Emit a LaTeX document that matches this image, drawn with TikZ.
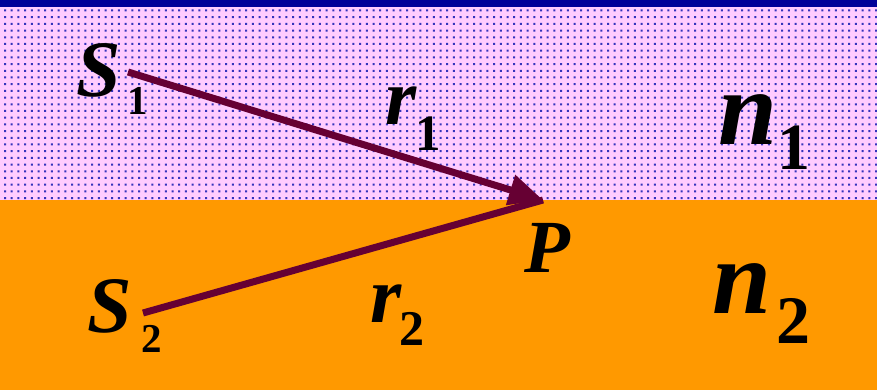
\documentclass[tikz,border=0pt]{standalone}
\usepackage{fontspec}
\setmainfont{Liberation Serif}
\usetikzlibrary{arrows.meta}
\definecolor{pinkbg}{HTML}{FFCCFF}
\definecolor{dotc}{HTML}{3333BB}
\definecolor{bandc}{HTML}{000099}
\definecolor{orangebg}{HTML}{FF9900}
\definecolor{rayc}{HTML}{660033}
\tikzset{
  lbl/.style={anchor=base west,inner sep=0pt,outer sep=0pt,font=\bfseries\itshape},
  sub/.style={anchor=base west,inner sep=0pt,outer sep=0pt,font=\bfseries},
  ray/.style={draw=rayc,line width=7pt},
}
\newcommand{\fs}[1]{\fontsize{#1}{#1}\selectfont}
\begin{document}
\begin{tikzpicture}[x=1pt,y=-1pt]
\useasboundingbox (0,0) rectangle (877,390);
\fill[pinkbg] (0,0) rectangle (877,200);
\fill[dotc] \foreach \i in {0,...,131} { \foreach \j in {0,...,28} { ({4+6.7*\i},{9.5+6.7*\j}) rectangle ++(2,2) } };
\fill[bandc] (0,0) rectangle (877,7);
\fill[orangebg] (0,200) rectangle (877,390);
\coordinate (s1) at (128,72);
\coordinate (s2) at (143,313);
\coordinate (p) at (543,200);
\draw[ray] (s2) -- (p);
\draw[ray,-{Triangle[length=34pt,width=30pt]}] (s1) -- (p);
\node[lbl,font=\bfseries\itshape\fs{80}] (S1) at (76,97) {S};
\node[sub,font=\bfseries\fs{41}] (S1s) at (127,115) {1};
\node[lbl,font=\bfseries\itshape\fs{80}] (S2) at (87,332) {S};
\node[sub,font=\bfseries\fs{41}] (S2s) at (141,352) {2};
\node[lbl,font=\bfseries\itshape\fs{80}] (R1) at (385,125) {r};
\node[sub,font=\bfseries\fs{51}] (R1s) at (415,150) {1};
\node[lbl,font=\bfseries\itshape\fs{80}] (R2) at (370,322) {r};
\node[sub,font=\bfseries\fs{50}] (R2s) at (399,345) {2};
\node[lbl,font=\bfseries\itshape\fs{106}] (N1) at (718,145) {n};
\node[sub,font=\bfseries\fs{66}] (N1s) at (777,170) {1};
\node[lbl,font=\bfseries\itshape\fs{106}] (N2) at (712,313) {n};
\node[sub,font=\bfseries\fs{68}] (N2s) at (776,343) {2};
\node[lbl,font=\bfseries\itshape\fs{75}] (P) at (524,272) {P};
\end{tikzpicture}
\end{document}
